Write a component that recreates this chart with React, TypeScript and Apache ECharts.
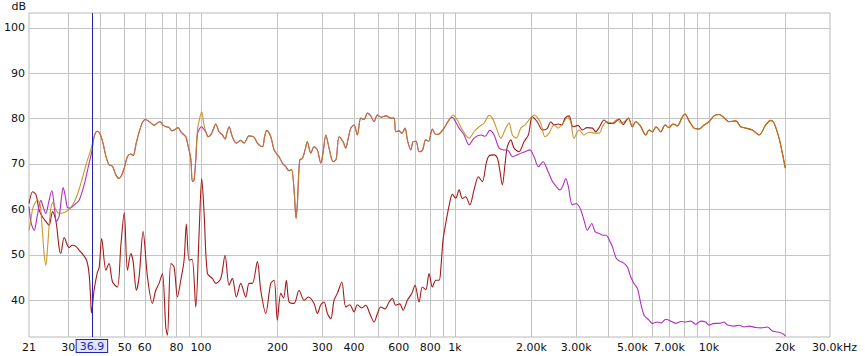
import React, { useEffect, useRef } from "react";
import * as echarts from "echarts";

const xMinHz = 21;
const xMaxHz = 30000;
const yMin = 31.9;
const yMax = 103.25;
const gridHz = [30, 40, 50, 60, 70, 80, 90, 100, 200, 300, 400, 500, 600, 700, 800, 900, 1000, 2000, 3000, 4000, 5000, 6000, 7000, 8000, 9000, 10000, 20000];
const tickHz = [21, 30, 50, 60, 80, 100, 200, 300, 400, 600, 800, 1000, 2000, 3000, 5000, 7000, 10000, 20000, 30000];
const tickLabels = ["21", "30", "50", "60", "80", "100", "200", "300", "400", "600", "800", "1k", "2.00k", "3.00k", "5.00k", "7.00k", "10k", "20k", "30.0kHz"];
const yTicks = [40, 50, 60, 70, 80, 90, 100];
const cursorHz = 36.9;

const goldLowHz = [21, 21.32, 21.81, 22.68, 23.24, 23.66, 24.1, 24.47, 24.88, 25.44, 26.0, 26.8, 27.6, 28.44, 29.34, 30.7, 32.12, 33.61, 35.36, 36.79];
const goldLowDb = [55.4, 57.5, 60.5, 62, 61, 56, 50, 47.7, 52, 59, 61.5, 59.9, 59.1, 59.2, 59.5, 60.4, 62.4, 65.7, 70.2, 73.1];

const magLowHz = [21, 21.42, 22.01, 22.62, 23.39, 23.88, 24.47, 25.09, 25.83, 26.38, 26.94, 27.6, 28.11, 28.63, 29.28, 29.77, 30.5, 31.15, 32.12, 33.09, 34.63, 36.23, 37.13];
const magLowDb = [60.6, 57, 55.4, 58.5, 62, 60.5, 59.1, 61.5, 64.1, 61, 57.3, 58.5, 62, 64.8, 62.5, 60.4, 60.3, 60.6, 61.3, 62, 65.4, 70.2, 72.7];

const midAHz = [37.91, 38.96, 40.02, 41.13, 42.26, 43.43, 44.76, 46.16, 47.55, 48.64, 49.76, 51.27, 52.88, 54.0, 55.48, 57.0, 58.58, 60.2, 61.86, 63.56, 65.32, 67.12, 68.96, 70.87, 72.82, 74.82, 76.89, 79.01, 81.19, 83.42, 87.06, 88.87, 91.08, 92.42, 93.85];
const midADb = [76, 77.2, 76.6, 74.5, 71.5, 69.8, 69.5, 67.6, 66.8, 67.5, 69, 71.6, 72.2, 71.8, 74.5, 77, 79, 79.8, 79.5, 79, 78.5, 79, 79.3, 78.5, 78.2, 78, 77.3, 77.6, 78, 77, 76, 74, 71.2, 66.1, 66.5];

const peakHz = [95.31, 96.72, 98.65, 100.6, 102.3, 104.4];
const goldPeakDb = [71, 77.5, 80, 81.5, 79, 77.1];
const magPeakDb = [71, 76.5, 77.8, 78.2, 77.7, 77.1];

const midBHz = [106.6, 109.2, 111.5, 114.3, 116.0, 117.7, 121.3, 124.3, 126.6, 128.9, 132.8, 137.7, 143.3, 147.7, 154.5, 161.7, 166.6, 174.4, 177.9, 181.5, 188.1, 193.9, 199.7, 202.8, 209.0, 215.6, 222.1, 227.2, 232.4, 236.7, 239.5, 244.7, 250.6, 256.8, 262.1, 270.4, 278.6, 287.1, 296.1, 302.3, 310.0, 319.2, 331.0, 340.2, 349.5, 362.5, 371.5, 379.2, 388.7, 400.5, 412.7, 425.6, 438.5, 451.9, 466.0, 480.1, 494.7, 511.6, 535.4, 558.6, 575.6, 584.5, 602.3, 617.2, 636.0, 649.4, 669.7, 683.8, 702.7, 722.0, 744.0, 767.3, 787, 814.7, 840.1, 865.6, 905.8];
const midBDb = [76, 76.4, 77.5, 78.8, 78, 77.1, 76.4, 75.5, 77, 78.2, 76, 74.6, 75.2, 74.6, 76.2, 75.9, 74.6, 73.8, 76, 77.4, 76, 73.1, 72, 71.6, 70.2, 69.4, 68.5, 68.8, 64.3, 58, 61.3, 70.9, 71.2, 73.1, 74.9, 72.4, 73.8, 73.1, 70.2, 72.5, 76.4, 73.5, 70.5, 71, 76, 74.9, 73.5, 75.5, 77.9, 78.6, 76.4, 80.1, 79.8, 81.2, 80.6, 79.3, 80.8, 80.3, 80.6, 80.1, 80.1, 77.1, 77.3, 76.8, 77.9, 75.3, 73.1, 74.9, 75, 72.7, 73, 75.3, 75, 77.7, 76.5, 76.6, 77.9];

const goldHiHz = [947.8, 982.9, 1022, 1069, 1136, 1189, 1244, 1302, 1362, 1404, 1456, 1515, 1585, 1633, 1683, 1745, 1816, 1888, 1958, 2049, 2105, 2177, 2264, 2347, 2456, 2554, 2617, 2689, 2772, 2853, 2945, 3081, 3224, 3374, 3530, 3694, 3831, 3972, 4168, 4349, 4510, 4677, 4819, 4996];
const goldHiDb = [79.7, 80.8, 79.7, 77.5, 75.7, 77.1, 78.2, 79, 80.7, 80.1, 77.9, 75.7, 77.9, 79, 76.4, 75.7, 77.9, 78.6, 79.7, 80.8, 80.3, 79, 76, 76.8, 78.6, 77.9, 78.5, 79.3, 80.4, 79.4, 75.7, 77.5, 76.4, 77, 76.8, 76.8, 78.5, 79.3, 79, 79.8, 79, 79.5, 80.1, 78.2];

const magHiHz = [947.8, 976.7, 1001, 1038, 1086, 1136, 1189, 1263, 1314, 1371, 1426, 1492, 1561, 1619, 1683, 1788, 1888, 1971, 2049, 2131, 2223, 2312, 2419, 2508, 2587, 2653, 2731, 2796, 2900, 3007, 3129, 3224, 3322, 3457, 3563, 3694, 3831, 3936, 4080, 4168, 4322, 4497, 4634, 4777, 4924, 5074, 5231, 5392, 5556, 5813, 5990, 6268, 6482, 6764, 7033, 7406, 7750, 8110, 8485, 8879, 9291, 9722, 10016, 10482, 10968, 11477, 11794, 12566, 13149, 13760, 14397, 15300, 16053, 16999, 17786, 18622, 19246, 19700, 20000];
const magHiDb = [79.7, 80.3, 79.5, 77.9, 76.4, 74.2, 75.7, 76.4, 76.1, 77.4, 76.4, 73.5, 73.1, 73, 71.6, 72.2, 72.7, 73.1, 71.6, 69.4, 70.5, 68.7, 66.2, 65, 64.3, 65, 66.8, 65, 61, 61.3, 59.9, 57.6, 55.4, 56.9, 55.1, 54.7, 54.3, 54.3, 52.9, 51.8, 49.2, 48.5, 48.1, 47.3, 45.1, 43.7, 42.6, 39.3, 36.7, 35.6, 34.9, 35.2, 35.0, 35.8, 35.5, 34.9, 35.3, 35.2, 35.4, 34.7, 35.4, 35.2, 34.5, 34.9, 34.9, 35.2, 34.6, 34.3, 34.5, 34.1, 34.3, 34, 33.9, 34.1, 33.2, 33, 32.8, 32.5, 32.1];

const topHiHz = [5153, 5358, 5642, 5813, 5990, 6195, 6464, 6722, 6969, 7228, 7515, 7864, 8059, 8355, 8744, 9148, 9574, 10016, 10482, 10968, 11477, 12008, 12772, 13353, 13973, 14836, 15764, 16753, 17529, 18062, 18899, 19474, 20000];
const topHiDb = [79.3, 78.5, 76.4, 77.5, 77.1, 78.2, 77.1, 78.6, 78.0, 78.8, 78.4, 80.4, 81, 79.5, 77.9, 77.7, 78.6, 79.3, 80.6, 80.9, 80.2, 79.3, 79.5, 78.2, 77.9, 77.5, 76.4, 78.6, 79.6, 79, 75.7, 72.4, 69.1];

const redHz = [21, 21.7, 22.4, 23.0, 23.7, 24.5, 25.2, 26.0, 26.8, 27.6, 28.0, 28.9, 30.2, 31.1, 32.2, 33.1, 34.0, 35.4, 36.2, 36.7, 37.0, 37.9, 39.0, 39.7, 40.6, 42.2, 43.4, 44.8, 46.8, 48.3, 49.8, 51.3, 52.9, 54.0, 55.6, 57.0, 59.1, 61.5, 64.3, 66.3, 68.3, 70.4, 72.6, 73.7, 76.0, 78.3, 80.7, 83.2, 85.7, 87.5, 89.7, 92.2, 95.3, 98.2, 100.6, 102.8, 105.9, 110.8, 114.3, 119.6, 124.3, 128.9, 132.8, 137.7, 143.3, 150.0, 154.5, 159.2, 166.6, 171.8, 179.8, 188.1, 193.9, 199.7, 206.0, 211.3, 216.7, 222.1, 232.4, 243.2, 254.5, 264.7, 278.6, 287.1, 296.1, 305.1, 314.4, 324.2, 334.0, 344.2, 358.2, 371.5, 385.1, 400.5, 412.7, 429.5, 445.3, 461.7, 480.1, 494.7, 510.2, 530.5, 550.0, 566.8, 584.5, 606.1, 624.6, 649.4, 675.8, 696.4, 722.0, 744.0, 767.3, 790.6, 814.7, 840.1, 866, 881, 897, 920, 947.8, 976.7, 1007, 1038, 1069, 1102, 1144, 1189, 1237, 1282, 1328, 1362, 1426, 1469, 1498, 1537, 1575, 1608, 1659, 1709, 1788, 1871, 1946, 2017, 2109, 2209, 2305, 2384, 2456, 2554, 2634, 2714, 2814, 2918, 3053, 3175, 3313, 3476, 3585, 3694, 3866, 4045, 4233, 4429, 4592, 4819, 4996];
const redDb = [61.3, 63.9, 63.2, 59.9, 58.4, 57.3, 56.5, 59.5, 57.5, 51.5, 50.3, 53.8, 51.6, 52.1, 51.8, 51.0, 50.3, 48.8, 45.9, 40.7, 37.2, 42.2, 46, 47.3, 53.6, 46.6, 48.1, 44, 42.9, 52, 59.3, 46.6, 50.3, 48.5, 42.2, 45.1, 55.1, 45.1, 39.3, 42.2, 43.7, 45.9, 34.1, 32.3, 48.1, 47.3, 40.7, 44.4, 48.8, 56.8, 48.8, 49, 38.5, 54.7, 66.8, 59.1, 45.9, 44.8, 43.7, 44.8, 49.9, 43.3, 44.8, 40.7, 43.7, 40.7, 43.7, 43.7, 48.5, 42.2, 37.1, 43.7, 44.4, 35.6, 41.5, 40.5, 44.4, 39.6, 39.3, 42.2, 40, 40.7, 39.3, 37.1, 39, 39.6, 37.1, 35.9, 40, 41.5, 44.0, 38.5, 39.0, 37.4, 39.0, 38.3, 38.9, 37.1, 35.2, 37, 38.5, 38.1, 39.6, 40.4, 38.9, 39.2, 37.8, 40, 41.5, 43.3, 39.6, 42.9, 42.3, 45.9, 42.9, 44.4, 44.4, 47.5, 53.2, 57, 60.8, 63.3, 62.5, 64.3, 62.4, 62.8, 61, 64.3, 67.2, 66.1, 70.2, 71.8, 72, 71.3, 69, 65.4, 70, 73.8, 75.3, 73.5, 72.7, 74.9, 76.4, 80.4, 79.3, 77.5, 77.8, 79.3, 78.6, 78.8, 78.6, 80.1, 80.6, 78.2, 78.5, 77.5, 78, 77.9, 77.1, 78, 79.7, 78.9, 79, 79.9, 78.7, 80.1, 78.2];

const FONT = "DejaVu Sans";
const lg = (f: number) => Math.log10(f);
const pts = (hz: number[], db: number[]) => hz.map((f, i) => [lg(f), db[i]]);

export default function App() {
  const ref = useRef<HTMLDivElement>(null);
  useEffect(() => {
    if (!ref.current) return;
    const chart = echarts.init(ref.current, null, { renderer: "svg" });
    const goldData = [...pts(goldLowHz, goldLowDb), ...pts(midAHz, midADb), ...pts(peakHz, goldPeakDb), ...pts(midBHz, midBDb), ...pts(goldHiHz, goldHiDb), ...pts(topHiHz, topHiDb)];
    const magData = [...pts(magLowHz, magLowDb), ...pts(midAHz, midADb), ...pts(peakHz, magPeakDb), ...pts(midBHz, midBDb), ...pts(magHiHz, magHiDb)];
    const redData = [...pts(redHz, redDb), ...pts(topHiHz, topHiDb)];
    const mk = (name: string, data: number[][], color: string, opacity: number, z: number, extra: any = {}) => ({
      type: "line", name, data, symbol: "none", showSymbol: false, smooth: 0.3, silent: true, z,
      lineStyle: { color, width: 1.1, opacity }, emphasis: { disabled: true }, ...extra,
    });
    chart.setOption({
      animation: false,
      textStyle: { fontFamily: FONT },
      grid: { left: 29, right: 35, top: 13, bottom: 19, show: true, borderColor: "#b8b8b8", borderWidth: 1 },
      xAxis: {
        type: "value", min: lg(xMinHz), max: lg(xMaxHz),
        axisLine: { show: false },
        axisTick: { show: false, customValues: gridHz.map(lg) },
        splitLine: { show: true, lineStyle: { color: "#c4c4c4", width: 1 } },
        axisLabel: {
          customValues: tickHz.map(lg), margin: 4, fontSize: 11, lineHeight: 13, color: "#111", fontFamily: FONT,
          showMinLabel: true, showMaxLabel: true, hideOverlap: false,
          formatter: (v: number) => {
            const i = tickHz.findIndex((f) => Math.abs(lg(f) - v) < 1e-6);
            if (i < 0) return "";
            return i === tickHz.length - 1 ? "{r|" + tickLabels[i] + "}" : tickLabels[i];
          },
          rich: { r: { fontSize: 11, fontFamily: FONT, color: "#111", padding: [0, 0, 0, 9] } },
        },
      },
      yAxis: {
        type: "value", min: yMin, max: yMax,
        name: "dB", nameLocation: "end", nameGap: 7,
        nameTextStyle: { fontSize: 11, fontFamily: FONT, color: "#111", align: "right", verticalAlign: "middle", padding: [0, 3, 0, 0] },
        axisLine: { show: false },
        axisTick: { show: false, customValues: yTicks },
        splitLine: { show: true, lineStyle: { color: "#c4c4c4", width: 1 } },
        axisLabel: { customValues: yTicks, margin: 4, fontSize: 11, color: "#111", fontFamily: FONT },
      },
      series: [
        mk("red", redData, "#a31a1a", 1, 2),
        mk("magenta", magData, "#b22ec2", 1, 3),
        mk("gold", goldData, "rgb(190,135,10)", 0.85, 4, {
          markLine: {
            silent: true, symbol: ["none", "none"], animation: false,
            lineStyle: { color: "#1f25b0", width: 1, type: "solid", opacity: 1 },
            label: {
              show: true, position: "start", distance: 3, formatter: cursorHz.toFixed(1),
              fontSize: 11, lineHeight: 12, fontFamily: FONT, color: "#1f25b0",
              backgroundColor: "#dfe5fa", borderColor: "#1f25b0", borderWidth: 1, padding: [0, 3, 0, 3],
            },
            emphasis: { disabled: true },
            data: [{ xAxis: lg(cursorHz) }],
          },
        }),
      ],
    });
    return () => chart.dispose();
  }, []);
  return <div ref={ref} style={{ position: "fixed", left: 0, top: 0, width: 865, height: 356, background: "#fff" }} />;
}
